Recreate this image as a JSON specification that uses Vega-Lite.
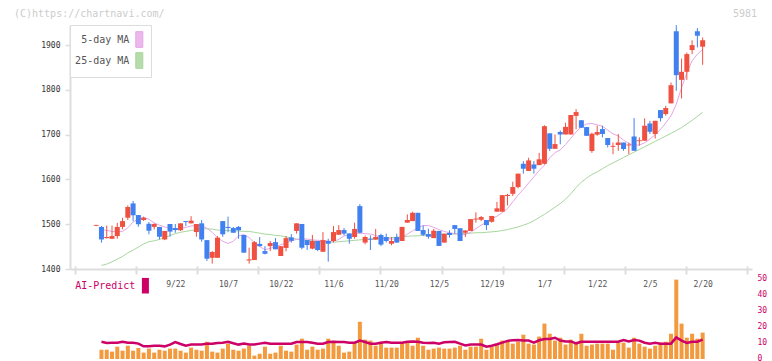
{
  "$schema": "https://vega.github.io/schema/vega-lite/v6.json",
  "background": "white",
  "padding": {"left": 14, "top": 8, "right": 0, "bottom": 0},
  "bounds": "flush",
  "spacing": 10,
  "title": {"text": "(C)https://chartnavi.com/", "anchor": "start", "frame": "group", "dx": -56, "offset": -10, "font": "DejaVu Sans Mono", "fontSize": 10, "fontWeight": "normal", "color": "#cccccc"},
  "config": {"view": {"stroke": null}, "font": "DejaVu Sans Mono"},
  "datasets": {
    "px": [
      {"i":0,"o":1496.5,"h":1498.5,"l":1496.5,"c":1498.5,"m5":null,"m25":null,"v":0,"ai":null},
      {"i":1,"o":1494,"h":1496,"l":1459,"c":1466,"m5":1488,"m25":1408,"v":5.8,"ai":10.8},
      {"i":2,"o":1469,"h":1497,"l":1468,"c":1471.5,"m5":1486,"m25":1411,"v":5.8,"ai":10.0},
      {"i":3,"o":1467.5,"h":1497,"l":1467,"c":1473.5,"m5":1484,"m25":1416,"v":4.6,"ai":10.2},
      {"i":4,"o":1473.5,"h":1503,"l":1467.5,"c":1494,"m5":1483,"m25":1422,"v":7.7,"ai":10.2},
      {"i":5,"o":1494,"h":1514.5,"l":1488.5,"c":1507,"m5":1484,"m25":1428,"v":5.2,"ai":10.8},
      {"i":6,"o":1514.5,"h":1542,"l":1509.5,"c":1538.5,"m5":1492,"m25":1436,"v":8.3,"ai":10.2},
      {"i":7,"o":1546.5,"h":1552,"l":1507,"c":1520,"m5":1505,"m25":1442,"v":5.2,"ai":10.2},
      {"i":8,"o":1520.5,"h":1520.5,"l":1494.5,"c":1500,"m5":1512,"m25":1449,"v":6.9,"ai":9.6},
      {"i":9,"o":1509.5,"h":1517,"l":1507,"c":1514.5,"m5":1515,"m25":1456,"v":4.0,"ai":7.9},
      {"i":10,"o":1501,"h":1505,"l":1477.5,"c":1485.5,"m5":1511,"m25":1461,"v":6.5,"ai":7.9},
      {"i":11,"o":1494,"h":1502,"l":1488.5,"c":1500.5,"m5":1503,"m25":1463,"v":4.0,"ai":8.3},
      {"i":12,"o":1494,"h":1494,"l":1466,"c":1472,"m5":1498,"m25":1466,"v":5.8,"ai":8.3},
      {"i":13,"o":1466,"h":1485,"l":1464.5,"c":1485,"m5":1494,"m25":1470,"v":5.2,"ai":7.9},
      {"i":14,"o":1500.5,"h":1500.5,"l":1472,"c":1483.5,"m5":1491,"m25":1475,"v":6.5,"ai":9.0},
      {"i":15,"o":1491.5,"h":1500.5,"l":1481,"c":1487,"m5":1488,"m25":1479,"v":6.5,"ai":10.6},
      {"i":16,"o":1486.5,"h":1502,"l":1485,"c":1502,"m5":1491,"m25":1482,"v":5.2,"ai":9.4},
      {"i":17,"o":1507,"h":1507,"l":1496,"c":1505,"m5":1493,"m25":1484,"v":4.0,"ai":8.3},
      {"i":18,"o":1502,"h":1518,"l":1502,"c":1508,"m5":1496,"m25":1486,"v":7.1,"ai":9.0},
      {"i":19,"o":1482.5,"h":1500.5,"l":1472,"c":1500.5,"m5":1497,"m25":1488,"v":5.8,"ai":9.0},
      {"i":20,"o":1502,"h":1509.5,"l":1461,"c":1466,"m5":1497,"m25":1490,"v":5.2,"ai":9.0},
      {"i":21,"o":1464.5,"h":1464.5,"l":1418,"c":1423,"m5":1491,"m25":1490,"v":10.8,"ai":9.6},
      {"i":22,"o":1425,"h":1440,"l":1412,"c":1438,"m5":1482,"m25":1489,"v":4.6,"ai":9.6},
      {"i":23,"o":1425,"h":1473.5,"l":1425,"c":1470,"m5":1470,"m25":1487,"v":4.0,"ai":10.0},
      {"i":24,"o":1507,"h":1507,"l":1472,"c":1477.5,"m5":1462,"m25":1486,"v":6.5,"ai":10.2},
      {"i":25,"o":1494,"h":1517,"l":1482,"c":1491.5,"m5":1457,"m25":1486,"v":9.6,"ai":10.8},
      {"i":26,"o":1491.5,"h":1494,"l":1481,"c":1481,"m5":1462,"m25":1485,"v":5.8,"ai":9.8},
      {"i":27,"o":1494,"h":1496,"l":1467.5,"c":1486.5,"m5":1474,"m25":1485,"v":5.2,"ai":9.0},
      {"i":28,"o":1476,"h":1476,"l":1436.5,"c":1436.5,"m5":1477,"m25":1484,"v":6.5,"ai":9.6},
      {"i":29,"o":1419,"h":1447.5,"l":1412,"c":1421.5,"m5":1470,"m25":1484,"v":8.3,"ai":9.0},
      {"i":30,"o":1420,"h":1462.5,"l":1420,"c":1460,"m5":1459,"m25":1482,"v":2.1,"ai":9.0},
      {"i":31,"o":1456,"h":1471.5,"l":1450,"c":1451,"m5":1450,"m25":1480,"v":3.3,"ai":9.6},
      {"i":32,"o":1440,"h":1451,"l":1432.5,"c":1434,"m5":1443,"m25":1478,"v":7.7,"ai":10.2},
      {"i":33,"o":1451,"h":1462.5,"l":1440,"c":1458,"m5":1446,"m25":1477,"v":3.3,"ai":9.6},
      {"i":34,"o":1460,"h":1469,"l":1444,"c":1444,"m5":1450,"m25":1475,"v":4.0,"ai":9.6},
      {"i":35,"o":1429,"h":1451,"l":1429,"c":1451,"m5":1454,"m25":1474,"v":8.3,"ai":9.6},
      {"i":36,"o":1447,"h":1473.5,"l":1439.5,"c":1469,"m5":1458,"m25":1472,"v":5.2,"ai":9.6},
      {"i":37,"o":1470.5,"h":1478,"l":1459,"c":1463,"m5":1463,"m25":1469,"v":4.6,"ai":9.6},
      {"i":38,"o":1485,"h":1502,"l":1479,"c":1502,"m5":1466,"m25":1467,"v":9.0,"ai":10.6},
      {"i":39,"o":1500.5,"h":1500.5,"l":1444,"c":1447.5,"m5":1467,"m25":1465,"v":12.7,"ai":10.6},
      {"i":40,"o":1464.5,"h":1464.5,"l":1442.5,"c":1453.5,"m5":1467,"m25":1464,"v":5.8,"ai":10.6},
      {"i":41,"o":1445.5,"h":1476,"l":1444,"c":1462.5,"m5":1465,"m25":1463,"v":7.7,"ai":10.2},
      {"i":42,"o":1462.5,"h":1462.5,"l":1440,"c":1442.5,"m5":1464,"m25":1462,"v":5.8,"ai":9.6},
      {"i":43,"o":1438.5,"h":1482.5,"l":1438.5,"c":1464.5,"m5":1464,"m25":1461,"v":6.5,"ai":9.6},
      {"i":44,"o":1462.5,"h":1467.5,"l":1416.5,"c":1456.5,"m5":1462,"m25":1460,"v":12.7,"ai":10.6},
      {"i":45,"o":1462.5,"h":1496,"l":1459,"c":1482.5,"m5":1462,"m25":1460,"v":10.2,"ai":10.8},
      {"i":46,"o":1476.5,"h":1498,"l":1476.5,"c":1487,"m5":1466,"m25":1461,"v":8.3,"ai":10.6},
      {"i":47,"o":1487,"h":1491.5,"l":1475,"c":1479,"m5":1474,"m25":1462,"v":4.0,"ai":10.6},
      {"i":48,"o":1479.5,"h":1479.5,"l":1456.5,"c":1467.5,"m5":1476,"m25":1463,"v":4.6,"ai":10.2},
      {"i":49,"o":1471.5,"h":1503.5,"l":1467.5,"c":1489.5,"m5":1479,"m25":1464,"v":10.2,"ai":10.2},
      {"i":50,"o":1540.5,"h":1545,"l":1479,"c":1481,"m5":1480,"m25":1465,"v":23.3,"ai":11.5},
      {"i":51,"o":1459,"h":1475,"l":1455,"c":1471.5,"m5":1479,"m25":1466,"v":12.1,"ai":10.6},
      {"i":52,"o":1467.5,"h":1475,"l":1442.5,"c":1465.5,"m5":1478,"m25":1467,"v":11.5,"ai":9.6},
      {"i":53,"o":1465.5,"h":1489.5,"l":1465.5,"c":1471.5,"m5":1475,"m25":1468,"v":8.3,"ai":9.6},
      {"i":54,"o":1476,"h":1479,"l":1451,"c":1454.5,"m5":1470,"m25":1468,"v":10.8,"ai":10.2},
      {"i":55,"o":1471.5,"h":1479,"l":1459,"c":1462.5,"m5":1468,"m25":1469,"v":7.1,"ai":10.6},
      {"i":56,"o":1456.5,"h":1471.5,"l":1453,"c":1462.5,"m5":1467,"m25":1470,"v":7.1,"ai":10.2},
      {"i":57,"o":1471.5,"h":1479,"l":1459,"c":1459,"m5":1467,"m25":1471,"v":7.1,"ai":10.2},
      {"i":58,"o":1462.5,"h":1494,"l":1462.5,"c":1494,"m5":1470,"m25":1472,"v":10.2,"ai":10.2},
      {"i":59,"o":1503.5,"h":1522,"l":1503.5,"c":1509.5,"m5":1478,"m25":1473,"v":10.8,"ai":10.8},
      {"i":60,"o":1507,"h":1528,"l":1507,"c":1525.5,"m5":1485,"m25":1474,"v":8.3,"ai":11.0},
      {"i":61,"o":1525.5,"h":1525.5,"l":1485,"c":1485,"m5":1492,"m25":1474,"v":13.3,"ai":10.8},
      {"i":62,"o":1487,"h":1497.5,"l":1473.5,"c":1476.5,"m5":1497,"m25":1475,"v":8.3,"ai":10.2},
      {"i":63,"o":1478,"h":1490,"l":1467.5,"c":1472,"m5":1497,"m25":1475,"v":5.8,"ai":10.0},
      {"i":64,"o":1469,"h":1489.5,"l":1469,"c":1485.5,"m5":1493,"m25":1476,"v":6.5,"ai":10.2},
      {"i":65,"o":1485,"h":1485,"l":1451.5,"c":1451.5,"m5":1488,"m25":1477,"v":7.1,"ai":9.6},
      {"i":66,"o":1459,"h":1479,"l":1459,"c":1479,"m5":1484,"m25":1477,"v":6.5,"ai":10.4},
      {"i":67,"o":1480.5,"h":1486.5,"l":1470,"c":1476,"m5":1481,"m25":1478,"v":6.5,"ai":10.6},
      {"i":68,"o":1498,"h":1498,"l":1479,"c":1489.5,"m5":1479,"m25":1478,"v":7.1,"ai":10.8},
      {"i":69,"o":1491,"h":1491,"l":1462.5,"c":1462.5,"m5":1477,"m25":1479,"v":8.3,"ai":9.6},
      {"i":70,"o":1481,"h":1486.5,"l":1471.5,"c":1486,"m5":1477,"m25":1479,"v":5.8,"ai":8.5},
      {"i":71,"o":1485,"h":1511.5,"l":1485,"c":1511.5,"m5":1482,"m25":1480,"v":7.7,"ai":9.0},
      {"i":72,"o":1510.5,"h":1526.5,"l":1503.5,"c":1512.5,"m5":1490,"m25":1481,"v":7.7,"ai":9.0},
      {"i":73,"o":1510,"h":1518.5,"l":1507,"c":1516,"m5":1498,"m25":1481,"v":12.7,"ai":9.0},
      {"i":74,"o":1509.5,"h":1509.5,"l":1487,"c":1498,"m5":1504,"m25":1482,"v":5.8,"ai":7.7},
      {"i":75,"o":1505.5,"h":1518.5,"l":1503.5,"c":1518.5,"m5":1512,"m25":1483,"v":7.7,"ai":8.3},
      {"i":76,"o":1528,"h":1550,"l":1528,"c":1535.5,"m5":1518,"m25":1484,"v":9.0,"ai":9.2},
      {"i":77,"o":1528,"h":1565,"l":1528,"c":1565,"m5":1526,"m25":1486,"v":11.5,"ai":10.2},
      {"i":78,"o":1563,"h":1568,"l":1542,"c":1565.5,"m5":1535,"m25":1488,"v":10.8,"ai":11.3},
      {"i":79,"o":1568,"h":1595,"l":1563,"c":1583,"m5":1550,"m25":1491,"v":9.6,"ai":11.7},
      {"i":80,"o":1583,"h":1613,"l":1580,"c":1613,"m5":1565,"m25":1494,"v":10.8,"ai":11.9},
      {"i":81,"o":1635,"h":1641,"l":1613,"c":1624,"m5":1578,"m25":1498,"v":15.2,"ai":11.5},
      {"i":82,"o":1619,"h":1648.5,"l":1619,"c":1642.5,"m5":1592,"m25":1502,"v":9.6,"ai":11.5},
      {"i":83,"o":1633.5,"h":1641,"l":1613,"c":1624,"m5":1606,"m25":1508,"v":9.0,"ai":10.2},
      {"i":84,"o":1632,"h":1659.5,"l":1632,"c":1645,"m5":1620,"m25":1515,"v":14.0,"ai":11.7},
      {"i":85,"o":1635,"h":1721,"l":1633.5,"c":1719,"m5":1632,"m25":1522,"v":22.1,"ai":12.5},
      {"i":86,"o":1703,"h":1703,"l":1663.5,"c":1668.5,"m5":1648,"m25":1530,"v":15.8,"ai":12.5},
      {"i":87,"o":1668.5,"h":1700.5,"l":1668.5,"c":1679,"m5":1660,"m25":1538,"v":11.5,"ai":13.3},
      {"i":88,"o":1706,"h":1709.5,"l":1678.5,"c":1700.5,"m5":1666,"m25":1546,"v":13.3,"ai":11.5},
      {"i":89,"o":1700.5,"h":1726.5,"l":1700.5,"c":1717.5,"m5":1678,"m25":1556,"v":9.0,"ai":11.0},
      {"i":90,"o":1700.5,"h":1744,"l":1700.5,"c":1744,"m5":1692,"m25":1568,"v":12.1,"ai":11.0},
      {"i":91,"o":1742,"h":1757,"l":1712,"c":1750.5,"m5":1706,"m25":1582,"v":10.2,"ai":9.8},
      {"i":92,"o":1732.5,"h":1732.5,"l":1715.5,"c":1715.5,"m5":1718,"m25":1594,"v":15.8,"ai":10.8},
      {"i":93,"o":1717,"h":1717,"l":1697.5,"c":1697.5,"m5":1724,"m25":1603,"v":8.3,"ai":10.8},
      {"i":94,"o":1663.5,"h":1704.5,"l":1659.5,"c":1702,"m5":1725,"m25":1611,"v":9.0,"ai":10.8},
      {"i":95,"o":1700,"h":1720,"l":1697.5,"c":1706,"m5":1722,"m25":1617,"v":9.6,"ai":10.8},
      {"i":96,"o":1712.5,"h":1720,"l":1694,"c":1701.5,"m5":1719,"m25":1624,"v":9.6,"ai":10.8},
      {"i":97,"o":1692.5,"h":1692.5,"l":1671.5,"c":1677,"m5":1710,"m25":1631,"v":9.6,"ai":10.8},
      {"i":98,"o":1673,"h":1682.5,"l":1656.5,"c":1675,"m5":1702,"m25":1637,"v":5.8,"ai":10.8},
      {"i":99,"o":1677,"h":1701.5,"l":1664,"c":1682.5,"m5":1697,"m25":1643,"v":10.2,"ai":10.8},
      {"i":100,"o":1682.5,"h":1682.5,"l":1664,"c":1668,"m5":1688,"m25":1649,"v":10.2,"ai":11.9},
      {"i":101,"o":1676,"h":1682.5,"l":1656.5,"c":1678,"m5":1680,"m25":1655,"v":7.1,"ai":11.0},
      {"i":102,"o":1696,"h":1737,"l":1664,"c":1664,"m5":1677,"m25":1661,"v":13.3,"ai":11.9},
      {"i":103,"o":1685.5,"h":1694,"l":1675.5,"c":1687.5,"m5":1677,"m25":1667,"v":9.6,"ai":11.5},
      {"i":104,"o":1686.5,"h":1736.5,"l":1686.5,"c":1720,"m5":1682,"m25":1673,"v":7.7,"ai":10.2},
      {"i":105,"o":1725,"h":1731,"l":1701.5,"c":1706.5,"m5":1690,"m25":1679,"v":6.5,"ai":9.6},
      {"i":106,"o":1701.5,"h":1731,"l":1691.5,"c":1731,"m5":1700,"m25":1685,"v":8.3,"ai":10.2},
      {"i":107,"o":1755,"h":1755,"l":1729.5,"c":1737,"m5":1712,"m25":1691,"v":10.2,"ai":9.6},
      {"i":108,"o":1746,"h":1764.5,"l":1742.5,"c":1759.5,"m5":1726,"m25":1697,"v":10.8,"ai":9.6},
      {"i":109,"o":1770,"h":1816.5,"l":1770,"c":1810.5,"m5":1742,"m25":1703,"v":15.8,"ai":9.6},
      {"i":110,"o":1931,"h":1944.5,"l":1798,"c":1833,"m5":1768,"m25":1709,"v":49.6,"ai":13.5},
      {"i":111,"o":1822.5,"h":1870,"l":1781,"c":1840.5,"m5":1805,"m25":1716,"v":22.1,"ai":11.5},
      {"i":112,"o":1840.5,"h":1883.5,"l":1822.5,"c":1880,"m5":1838,"m25":1724,"v":13.3,"ai":10.0},
      {"i":113,"o":1889,"h":1911,"l":1880,"c":1900,"m5":1865,"m25":1732,"v":15.8,"ai":10.8},
      {"i":114,"o":1931,"h":1938,"l":1895,"c":1921,"m5":1880,"m25":1741,"v":12.7,"ai":10.8},
      {"i":115,"o":1896.5,"h":1917,"l":1856,"c":1911,"m5":1890,"m25":1750,"v":16.5,"ai":12.1}
    ]
  },
  "data": {"name": "px"},
  "resolve": {"scale": {"stroke": "independent"}, "legend": {"stroke": "independent"}},
  "vconcat": [
    {
      "width": 682,
      "height": 244,
      "title": {"text": "5981", "anchor": "end", "frame": "group", "dx": 5, "offset": 6, "font": "DejaVu Sans Mono", "fontSize": 10, "fontWeight": "normal", "color": "#cccccc"},
      "encoding": {
        "x": {"field": "i", "type": "quantitative",
          "scale": {"domain": [-4.017, 123.41], "nice": false, "zero": false},
          "axis": {"title": null, "grid": false, "values": [15, 25, 35, 45, 55, 65, 75, 85, 95, 105, 115],
            "labelExpr": "datum.value==15?'9/22':datum.value==25?'10/7':datum.value==35?'10/22':datum.value==45?'11/6':datum.value==55?'11/20':datum.value==65?'12/5':datum.value==75?'12/19':datum.value==85?'1/7':datum.value==95?'1/22':datum.value==105?'2/5':'2/20'",
            "ticks": false, "tickSize": 0, "domainColor": "#dddddd", "domainWidth": 2,
            "labelFont": "DejaVu Sans Mono", "labelFontSize": 8, "labelColor": "#555555", "labelPadding": 11, "labelFlush": false, "labelOverlap": false}}
      },
      "layer": [
        {
          "mark": {"type": "line", "strokeWidth": 1},
          "encoding": {
            "y": {"field": "m25", "type": "quantitative", "scale": {"domain": [1400, 1945], "nice": false, "zero": false},
              "axis": {"title": null, "grid": false, "values": [1400, 1500, 1600, 1700, 1800, 1900], "format": "d", "tickSize": 5, "tickColor": "#dddddd", "tickWidth": 1.5, "domainColor": "#dddddd", "domainWidth": 2, "labelFont": "DejaVu Sans Mono", "labelFontSize": 8, "labelColor": "#333333", "labelPadding": 5, "labelOverlap": false}},
            "stroke": {"datum": "25-day MA", "type": "nominal",
              "scale": {"domain": ["5-day MA", "25-day MA"], "range": ["#e6a6e6", "#a8d69e"]},
              "legend": {"title": null, "orient": "top-left", "offset": 0, "padding": 6, "fillColor": "white", "strokeColor": "#dddddd",
                "symbolType": "M-0.44,-0.98H0.44V0.98H-0.44Z", "symbolSize": 256, "symbolStrokeWidth": 1, "symbolOffset": 54.8,
                "rowPadding": 0,
                "labelAlign": "right", "labelOffset": -18.5, "labelFont": "DejaVu Sans Mono", "labelFontSize": 10, "labelColor": "#555555",
                "encode": {"symbols": {"update": {"fill": [{"test": "datum.value === '5-day MA'", "value": "#ecb8ec"}, {"value": "#b6dcac"}], "stroke": {"value": "#555555"}, "strokeWidth": {"value": 1}, "opacity": {"value": 1}}}}}}
          }
        },
        {
          "mark": {"type": "line", "strokeWidth": 1},
          "encoding": {
            "y": {"field": "m5", "type": "quantitative"},
            "stroke": {"datum": "5-day MA", "type": "nominal"}
          }
        },
        {
          "mark": {"type": "rule", "strokeWidth": 1},
          "encoding": {
            "y": {"field": "l", "type": "quantitative"},
            "y2": {"field": "h"},
            "color": {"condition": {"test": "datum.c >= datum.o", "value": "#f05040"}, "value": "#4080f0"}
          }
        },
        {
          "mark": {"type": "bar", "size": 5},
          "encoding": {
            "y": {"field": "o", "type": "quantitative"},
            "y2": {"field": "c"},
            "color": {"condition": {"test": "datum.c >= datum.o", "value": "#f05040"}, "value": "#4080f0"}
          }
        }
      ]
    },
    {
      "width": 682,
      "height": 80,
      "encoding": {
        "x": {"field": "i", "type": "quantitative",
          "scale": {"domain": [-4.017, 123.41], "nice": false, "zero": false},
          "axis": {"orient": "top", "title": null, "grid": false, "labels": false, "domain": false,
            "values": [-4.017, 7.568, 19.153, 30.738, 42.323, 53.908, 65.493, 77.078, 88.663, 100.248, 111.833, 123.41],
            "ticks": true, "tickSize": 8, "tickColor": "#dddddd", "tickWidth": 2, "offset": 5}}
      },
      "layer": [
        {
          "mark": {"type": "bar", "size": 4, "color": "#f29a3d"},
          "encoding": {
            "y": {"field": "v", "type": "quantitative", "scale": {"domain": [0, 50], "nice": false},
              "axis": {"orient": "right", "title": null, "grid": false, "values": [0, 10, 20, 30, 40, 50], "ticks": false, "tickSize": 0, "domain": false, "labelOverlap": false, "labelOffset": -1,
                "labelFont": "DejaVu Sans Mono", "labelFontSize": 8, "labelColor": "#cc0066", "labelPadding": 5}}
          }
        },
        {
          "mark": {"type": "line", "strokeWidth": 2.5},
          "encoding": {
            "y": {"field": "ai", "type": "quantitative", "scale": {"domain": [0, 50], "nice": false},
              "axis": {"orient": "right", "title": null, "grid": false, "values": [0, 10, 20, 30, 40, 50], "ticks": false, "tickSize": 0, "domain": false, "labelOverlap": false, "labelOffset": -1,
                "labelFont": "DejaVu Sans Mono", "labelFontSize": 8, "labelColor": "#cc0066", "labelPadding": 5}},
            "stroke": {"datum": "AI-Predict", "type": "nominal",
              "scale": {"domain": ["AI-Predict"], "range": ["#cc0066"]},
              "legend": {"title": null, "orient": "none", "legendX": 67.4, "legendY": -1.3, "padding": 0,
                "symbolType": "M-0.45,-1H0.45V1H-0.45Z", "symbolSize": 243,
                "labelAlign": "right", "labelOffset": -18, "labelFont": "DejaVu Sans Mono", "labelFontSize": 10, "labelColor": "#cc0066",
                "encode": {"symbols": {"update": {"fill": {"value": "#cc0066"}, "stroke": {"value": "#cc0066"}, "strokeWidth": {"value": 0}, "opacity": {"value": 1}}}}}}
          }
        }
      ]
    }
  ]
}
